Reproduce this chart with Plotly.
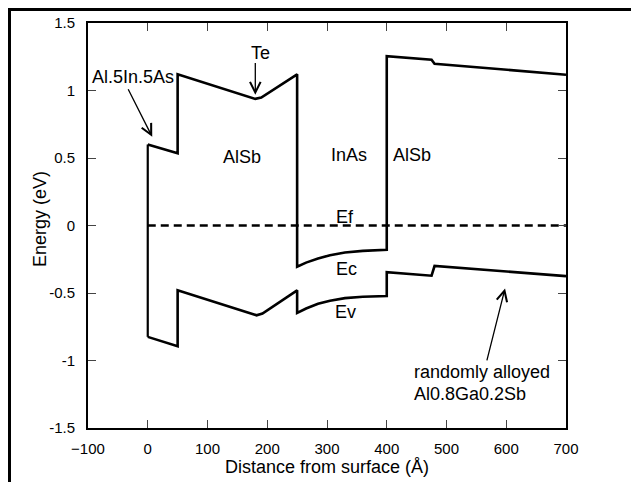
import plotly.graph_objects as go

# Conduction band edge (Ec)
ec_x = [0, 50, 50, 172, 180, 190, 250, 250, 265, 285, 305, 330, 360, 400, 400, 475, 480, 700]
ec_y = [0.60, 0.535, 1.12, 0.945, 0.938, 0.948, 1.12, -0.305, -0.275, -0.245, -0.22, -0.20, -0.188, -0.18, 1.255, 1.228, 1.198, 1.117]

# Valence band edge (Ev)
ev_x = [0, 50, 50, 175, 182, 192, 250, 250, 265, 285, 305, 330, 360, 400, 400, 475, 480, 700]
ev_y = [-0.825, -0.895, -0.48, -0.66, -0.665, -0.652, -0.48, -0.648, -0.615, -0.58, -0.557, -0.538, -0.528, -0.522, -0.345, -0.372, -0.30, -0.375]

# Fermi level (Ef)
ef_x = [0, 700]
ef_y = [0, 0]

x_ticks = [-100, 0, 100, 200, 300, 400, 500, 600, 700]
y_ticks = [-1.5, -1, -0.5, 0, 0.5, 1, 1.5]
y_ticklabels = ["-1.5", "-1", "-0.5", "0", "0.5", "1", "1.5"]

FONT = "Liberation Sans, Arial, Helvetica, sans-serif"
LW = 2.6
TXT = 18
TICK = 15

fig = go.Figure()
fig.add_trace(go.Scatter(x=[ec_x[0], ev_x[0]], y=[ec_y[0], ev_y[0]], mode="lines",
                         line=dict(color="black", width=2.2), showlegend=False, hoverinfo="skip"))
fig.add_trace(go.Scatter(x=ec_x, y=ec_y, mode="lines", line=dict(color="black", width=LW),
                         showlegend=False, name="Ec"))
fig.add_trace(go.Scatter(x=ev_x, y=ev_y, mode="lines", line=dict(color="black", width=LW),
                         showlegend=False, name="Ev"))
fig.add_trace(go.Scatter(x=ef_x, y=ef_y, mode="lines",
                         line=dict(color="black", width=2.6, dash="8px,5px"),
                         showlegend=False, name="Ef"))

ann = []
def txt(x, y, s, xanchor="center", size=TXT):
    ann.append(dict(x=x, y=y, xref="x", yref="y", text=s, showarrow=False,
                    xanchor=xanchor, yanchor="middle", font=dict(size=size, color="black", family=FONT)))

def arrow(x0, y0, x1, y1):
    ann.append(dict(x=x1, y=y1, ax=x0, ay=y0, xref="x", yref="y", axref="x", ayref="y",
                    text="", showarrow=True, arrowhead=5, arrowsize=1.6, arrowwidth=1.3,
                    arrowcolor="black"))

txt(188, 1.275, "Te")
arrow(180, 1.215, 180, 0.968)
txt(-24, 1.10, "Al.5In.5As")
arrow(-34, 1.02, 7.5, 0.657)
txt(158, 0.505, "AlSb")
txt(336, 0.52, "InAs")
txt(443, 0.52, "AlSb")
txt(330, 0.065, "Ef")
txt(333, -0.325, "Ec")
txt(331, -0.64, "Ev")
txt(442, -1.085, "randomly alloyed", xanchor="left")
txt(442, -1.245, "Al0.8Ga0.2Sb", xanchor="left")
arrow(567, -1.01, 598, -0.466)

# axis titles
ann.append(dict(x=-0.1004, y=0.516, xref="paper", yref="paper", text="Energy (eV)", textangle=-90,
                showarrow=False, xanchor="center", yanchor="middle",
                font=dict(size=TXT, color="black", family=FONT)))
ann.append(dict(x=0.499, y=-0.096, xref="paper", yref="paper", text="Distance from surface (Å)",
                showarrow=False, xanchor="center", yanchor="middle",
                font=dict(size=TXT, color="black", family=FONT)))

# outer frame (top and left edges visible; the rest falls outside the figure)
ann.append(dict(x=-80 / 478, y=420 / 405, xref="paper", yref="paper", text=" ", showarrow=False,
                xanchor="left", yanchor="top", width=720, height=540, borderwidth=3,
                bordercolor="black", borderpad=0, bgcolor="rgba(0,0,0,0)",
                font=dict(size=TXT, color="black", family=FONT)))

fig.update_layout(
    width=631, height=474,
    margin=dict(l=80, r=73, t=15, b=54, autoexpand=False),
    paper_bgcolor="white", plot_bgcolor="white",
    font=dict(family=FONT, color="black", size=TICK),
    annotations=ann,
)
fig.update_xaxes(range=[-100, 700], tickvals=x_ticks, ticks="inside", ticklen=8, tickwidth=1.3,
                 showline=True, linecolor="black", linewidth=1.8, mirror="ticks", showgrid=False,
                 zeroline=False, automargin=False,
                 tickfont=dict(size=TICK, family=FONT, color="black"), ticklabelstandoff=6)
fig.update_yaxes(range=[-1.5, 1.5], tickvals=y_ticks, ticktext=y_ticklabels, ticks="inside", ticklen=8,
                 tickwidth=1.3, showline=True, linecolor="black", linewidth=1.8, mirror="ticks",
                 showgrid=False, zeroline=False, automargin=False,
                 tickfont=dict(size=TICK, family=FONT, color="black"), ticklabelstandoff=8)

fig.write_html("out.html", config={"displayModeBar": False})
